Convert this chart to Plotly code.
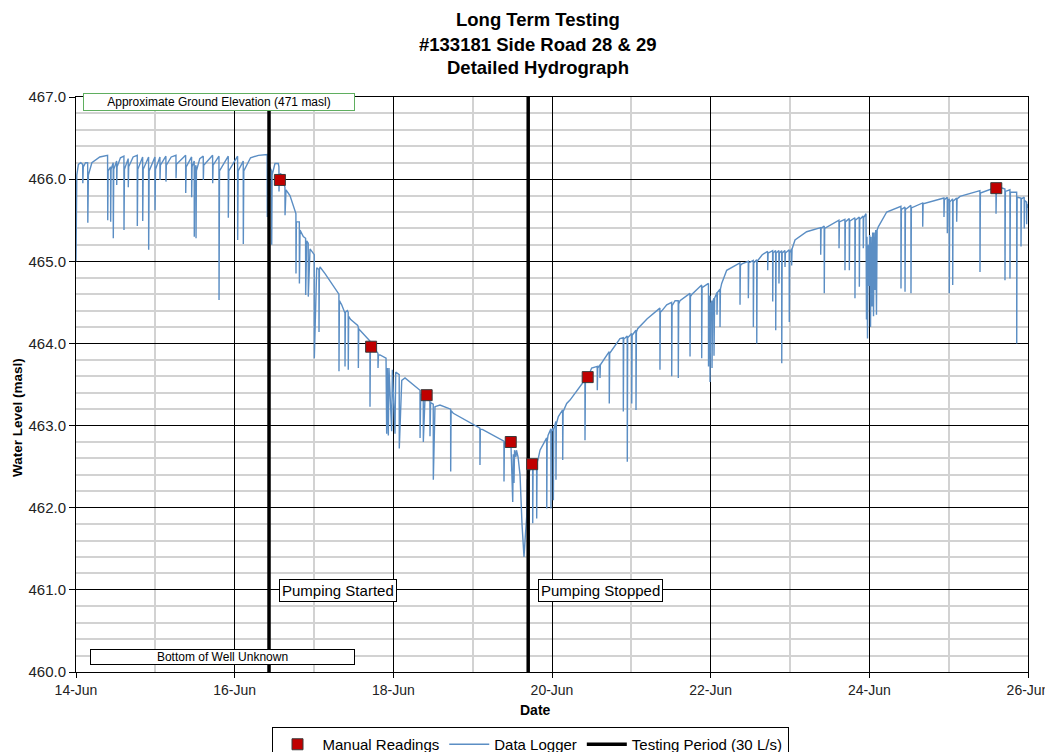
import pandas as pd
import plotly.graph_objects as go

START = pd.Timestamp("2015-06-14")

# ---- Manual readings (day offset from 14-Jun 00:00, level masl)
manual_days = [2.57, 3.72, 4.42, 5.48, 5.75, 6.45, 11.60]
manual_level = [465.99, 463.96, 463.37, 462.80, 462.53, 463.59, 465.89]

# ---- Testing period (pumping start / stop, day offsets)
pump_start_day = 2.433
pump_stop_day = 5.700
testing_levels = [460.0, 467.0]

# ---- Data logger (day offset, level)
logger_prepump = [
    (0.000, 465.00), (0.010, 466.05), (0.030, 466.18), (0.060, 466.20),
    (0.084, 466.18), (0.086, 465.95), (0.092, 466.15), (0.120, 466.20),
    (0.147, 466.20), (0.149, 465.47), (0.156, 466.05), (0.200, 466.20),
    (0.300, 466.27), (0.398, 466.29), (0.400, 465.50), (0.405, 466.10),
    (0.436, 466.15), (0.437, 465.48), (0.442, 466.12), (0.469, 466.20),
    (0.470, 465.28), (0.476, 466.12), (0.512, 466.22), (0.513, 465.93),
    (0.518, 466.15), (0.560, 466.26), (0.604, 466.28), (0.605, 465.38),
    (0.611, 466.12), (0.658, 466.25), (0.659, 465.90), (0.664, 466.15),
    (0.720, 466.27), (0.772, 466.29), (0.773, 465.43), (0.779, 466.12),
    (0.840, 466.27), (0.841, 465.49), (0.847, 466.12), (0.915, 466.27),
    (0.916, 465.14), (0.922, 466.10), (0.995, 466.27), (0.996, 465.62),
    (1.002, 466.12), (1.058, 466.27), (1.059, 465.99), (1.064, 466.17),
    (1.133, 466.28), (1.134, 465.97), (1.139, 466.17), (1.200, 466.27),
    (1.260, 466.29), (1.261, 466.01), (1.266, 466.18), (1.382, 466.29),
    (1.383, 465.83), (1.389, 466.15), (1.457, 466.27), (1.458, 465.78),
    (1.463, 466.15), (1.490, 466.22), (1.491, 465.30), (1.496, 466.10),
    (1.512, 466.17), (1.513, 465.28), (1.518, 466.10), (1.560, 466.25),
    (1.604, 466.28), (1.605, 465.99), (1.610, 466.17), (1.722, 466.29),
    (1.723, 465.95), (1.728, 466.17), (1.802, 466.28), (1.803, 464.53),
    (1.809, 466.10), (1.919, 466.28), (1.920, 465.53), (1.926, 466.10),
    (2.037, 466.28), (2.038, 465.26), (2.044, 466.10), (2.108, 466.22),
    (2.109, 465.21), (2.115, 466.10), (2.200, 466.26), (2.300, 466.29),
    (2.410, 466.30), (2.411, 465.54), (2.416, 466.10),
]

logger_drawdown = [
    (2.440, 466.15), (2.466, 466.10), (2.467, 465.20), (2.472, 466.05),
    (2.508, 466.19), (2.550, 466.19), (2.558, 466.15), (2.559, 465.85),
    (2.564, 466.05), (2.580, 466.07), (2.609, 465.98), (2.634, 465.90),
    (2.635, 465.56), (2.647, 465.87), (2.697, 465.80), (2.760, 465.60),
    (2.772, 465.58), (2.773, 464.85), (2.778, 465.48), (2.815, 465.48),
    (2.816, 464.73), (2.824, 465.38), (2.865, 465.30), (2.894, 465.28),
    (2.895, 464.59), (2.908, 465.25), (2.927, 465.22), (2.928, 464.57),
    (2.950, 465.15), (2.991, 465.10), (3.003, 465.08), (3.004, 463.82),
    (3.034, 464.92), (3.062, 464.90), (3.063, 464.14), (3.068, 464.90),
    (3.076, 464.93), (3.139, 464.85), (3.314, 464.60), (3.315, 463.66),
    (3.320, 464.52), (3.349, 464.47), (3.390, 464.37), (3.391, 463.72),
    (3.396, 464.38), (3.420, 464.40), (3.431, 464.38), (3.432, 463.68),
    (3.437, 464.33), (3.463, 464.29), (3.551, 464.22), (3.558, 464.20),
    (3.559, 463.70), (3.564, 464.18), (3.580, 464.16), (3.684, 464.06),
    (3.705, 464.03), (3.706, 463.23), (3.711, 463.98), (3.718, 463.96),
    (3.790, 463.90), (3.806, 463.88), (3.807, 463.70), (3.812, 463.86),
    (3.832, 463.86), (3.908, 463.82), (3.916, 462.90), (3.925, 463.70),
    (3.937, 462.88), (3.945, 463.70), (3.979, 462.93), (3.988, 463.68),
    (4.021, 462.90), (4.030, 463.65), (4.074, 463.62), (4.075, 462.72),
    (4.106, 463.55), (4.147, 463.58), (4.336, 463.43), (4.337, 462.85),
    (4.345, 463.38), (4.377, 463.38), (4.378, 462.80), (4.399, 463.33),
    (4.461, 463.30), (4.462, 462.87), (4.470, 463.28), (4.503, 463.26),
    (4.504, 462.34), (4.525, 463.23), (4.588, 463.25), (4.722, 463.20),
    (4.723, 462.44), (4.728, 463.18), (4.756, 463.15), (5.091, 462.97),
    (5.092, 462.52), (5.097, 462.96), (5.127, 462.95), (5.394, 462.81),
    (5.395, 462.32), (5.400, 462.80), (5.420, 462.78), (5.483, 462.76),
    (5.505, 462.07), (5.512, 462.65), (5.521, 462.30), (5.528, 462.70),
    (5.546, 462.62), (5.552, 462.70), (5.572, 462.62), (5.597, 462.40),
    (5.622, 461.80), (5.638, 461.45), (5.647, 461.40), (5.660, 461.60),
    (5.681, 461.89), (5.689, 462.34),
]

logger_recovery = [
    (5.732, 462.50), (5.756, 462.53), (5.757, 461.81), (5.762, 462.50), (5.773, 462.55),
    (5.806, 462.58), (5.807, 461.87), (5.812, 462.55), (5.827, 462.60), (5.849, 462.70),
    (5.933, 462.85), (5.934, 461.99), (5.939, 462.80), (5.950, 462.88), (5.975, 462.94),
    (5.986, 462.96), (5.987, 461.99), (5.992, 462.93), (6.016, 462.97), (6.017, 462.09),
    (6.022, 462.95), (6.049, 463.05), (6.050, 462.34), (6.055, 463.02), (6.080, 463.11),
    (6.122, 463.17), (6.134, 463.19), (6.135, 462.58), (6.140, 463.17), (6.185, 463.27),
    (6.227, 463.31), (6.395, 463.53), (6.415, 463.55), (6.416, 462.82), (6.421, 463.53),
    (6.441, 463.57), (6.500, 463.70), (6.570, 463.72), (6.571, 463.43), (6.576, 463.70),
    (6.604, 463.74), (6.605, 463.58), (6.610, 463.74), (6.721, 463.90), (6.722, 463.27),
    (6.727, 463.88), (6.857, 464.06), (6.898, 464.07), (6.899, 463.17), (6.904, 464.05),
    (6.948, 464.09), (6.949, 462.56), (6.954, 464.07), (7.004, 464.12), (7.005, 463.27),
    (7.010, 464.10), (7.058, 464.16), (7.059, 463.19), (7.064, 464.14), (7.080, 464.18),
    (7.200, 464.30), (7.360, 464.43), (7.361, 463.68), (7.366, 464.38), (7.387, 464.40),
    (7.446, 464.47), (7.508, 464.50), (7.509, 463.60), (7.514, 464.46), (7.551, 464.52),
    (7.591, 464.52), (7.592, 463.58), (7.597, 464.48), (7.613, 464.52), (7.739, 464.61),
    (7.740, 463.84), (7.745, 464.57), (7.765, 464.60), (7.886, 464.71), (7.887, 463.82),
    (7.892, 464.68), (7.972, 464.73), (7.973, 463.72), (7.980, 464.55), (7.991, 464.58),
    (7.992, 463.53), (8.000, 464.45), (8.016, 464.52), (8.017, 463.70), (8.025, 464.50),
    (8.041, 464.55), (8.042, 463.85), (8.050, 464.55), (8.079, 464.62), (8.080, 464.35),
    (8.085, 464.62), (8.117, 464.66), (8.118, 464.20), (8.123, 464.66), (8.139, 464.73),
    (8.202, 464.89), (8.369, 464.98), (8.370, 464.47), (8.375, 464.95), (8.395, 464.97),
    (8.474, 465.00), (8.475, 464.55), (8.480, 464.98), (8.537, 465.01), (8.538, 464.20),
    (8.543, 464.98), (8.580, 465.02), (8.581, 464.00), (8.586, 465.00), (8.650, 465.08),
    (8.718, 465.12), (8.719, 464.89), (8.724, 465.10), (8.781, 465.13), (8.782, 464.51),
    (8.787, 465.10), (8.819, 465.13), (8.820, 464.16), (8.825, 465.10), (8.860, 465.13),
    (8.861, 464.73), (8.866, 465.10), (8.895, 465.13), (8.896, 463.76), (8.901, 465.10),
    (8.936, 465.13), (8.937, 464.93), (8.942, 465.10), (8.990, 465.14), (8.991, 464.26),
    (8.996, 465.10), (9.020, 465.15), (9.021, 464.95), (9.026, 465.15), (9.063, 465.26),
    (9.210, 465.36), (9.386, 465.41), (9.387, 465.08), (9.392, 465.40), (9.431, 465.43),
    (9.432, 464.61), (9.437, 465.40), (9.617, 465.50), (9.618, 465.16), (9.623, 465.48),
    (9.692, 465.51), (9.693, 464.89), (9.698, 465.48), (9.747, 465.52), (9.748, 464.89),
    (9.753, 465.49), (9.818, 465.53), (9.819, 464.55), (9.824, 465.50), (9.873, 465.54),
    (9.874, 464.69), (9.879, 465.51), (9.923, 465.55), (9.924, 465.16), (9.929, 465.53),
    (9.958, 465.58), (9.964, 464.29), (9.970, 465.30), (9.977, 464.06), (9.985, 465.20),
    (9.996, 464.70), (10.004, 465.32), (10.015, 464.20), (10.022, 465.30), (10.034, 464.45),
    (10.042, 465.35), (10.053, 464.33), (10.060, 465.35), (10.071, 464.65), (10.080, 465.38),
    (10.090, 464.35), (10.098, 465.38), (10.113, 465.42), (10.219, 465.60), (10.398, 465.67),
    (10.399, 464.67), (10.404, 465.63), (10.449, 465.66), (10.450, 464.63), (10.455, 465.63),
    (10.524, 465.68), (10.525, 464.61), (10.530, 465.65), (10.672, 465.71), (10.673, 465.42),
    (10.678, 465.70), (10.940, 465.77), (10.941, 465.54), (10.946, 465.75), (10.982, 465.78),
    (10.983, 465.34), (10.988, 465.74), (11.007, 465.76), (11.008, 464.61), (11.013, 465.72),
    (11.050, 465.76), (11.051, 464.71), (11.056, 465.73), (11.100, 465.77), (11.101, 465.48),
    (11.106, 465.76), (11.143, 465.79), (11.394, 465.86), (11.395, 464.87), (11.400, 465.83),
    (11.596, 465.90), (11.597, 465.58), (11.602, 465.88), (11.647, 465.90), (11.709, 465.88),
    (11.710, 464.77), (11.715, 465.85), (11.772, 465.87), (11.773, 464.79), (11.778, 465.84),
    (11.857, 465.84), (11.858, 464.00), (11.863, 465.78), (11.911, 465.77), (11.912, 465.18),
    (11.917, 465.76), (11.952, 465.78), (11.953, 465.40), (11.958, 465.74), (11.982, 465.72),
    (11.983, 465.45), (11.988, 465.70), (12.000, 465.65),
]

x_tick_start, x_tick_end = "2015-06-14", "2015-06-26"
y_min, y_max = 460.0, 467.0

FONT = "Liberation Sans, Arial, sans-serif"
DAY_MS = 86400000


def to_dates(days):
    return list(START + pd.to_timedelta(pd.Series(days, dtype=float), unit="D"))


logger_all = logger_prepump + logger_drawdown + logger_recovery
log_days = [p[0] for p in logger_all]
log_level = [p[1] for p in logger_all]

fig = go.Figure()

fig.add_trace(go.Scatter(
    x=to_dates(log_days), y=log_level, mode="lines", name="Data Logger",
    line=dict(color="#5B8EC4", width=1.4), legendrank=2,
))

ts = to_dates([pump_start_day, pump_stop_day])
fig.add_trace(go.Scatter(
    x=[ts[0], ts[0], None, ts[1], ts[1]],
    y=[testing_levels[0], testing_levels[1], None, testing_levels[0], testing_levels[1]],
    mode="lines", name="Testing Period (30 L/s)",
    line=dict(color="black", width=3.5), legendrank=3,
))

fig.add_trace(go.Scatter(
    x=to_dates(manual_days), y=manual_level, mode="markers", name="Manual Readings",
    marker=dict(symbol="square", size=11, color="#C00000",
                line=dict(color="#3a3a3a", width=1)),
    legendrank=1,
))

# page body adds an 8px offset; layout values below are in figure pixels
OFF = 8
W, H = 1053, 752
L, T = 76 - OFF, 97 - OFF
R = W - (1028 - OFF)
B = H - (672 - OFF)
pw, ph = W - L - R, H - T - B


def px(xp):
    return (xp - OFF - L) / pw


def py(yp):
    return (H - B - (yp - OFF)) / ph


annotations = [
    dict(text="<b>Long Term Testing</b>", x=px(538), y=py(20)),
    dict(text="<b>#133181 Side Road 28 &amp; 29</b>", x=px(538), y=py(44)),
    dict(text="<b>Detailed Hydrograph</b>", x=px(538), y=py(68)),
]
for a in annotations:
    a.update(xref="paper", yref="paper", showarrow=False, xanchor="center",
             yanchor="middle", font=dict(size=18.5, family=FONT, color="black"))

annotations += [
    dict(text="<b>Water Level (masl)</b>", x=px(17), y=py(418), textangle=-90,
         xref="paper", yref="paper", showarrow=False, xanchor="center", yanchor="middle",
         font=dict(size=13.5, family=FONT, color="black")),
    dict(text="<b>Date</b>", x=px(535), y=py(710),
         xref="paper", yref="paper", showarrow=False, xanchor="center", yanchor="middle",
         font=dict(size=14, family=FONT, color="black")),
    dict(text="Approximate Ground Elevation (471 masl)", x=px(218.5), y=py(101.5),
         xref="paper", yref="paper", showarrow=False, xanchor="center", yanchor="middle",
         width=268, height=14, bgcolor="white", bordercolor="#5FAE5F", borderwidth=1,
         borderpad=1, font=dict(size=12, family=FONT, color="black")),
    dict(text="Bottom of Well Unknown", x=px(222), y=py(657),
         xref="paper", yref="paper", showarrow=False, xanchor="center", yanchor="middle",
         width=261, height=12, bgcolor="white", bordercolor="black", borderwidth=1,
         borderpad=1, font=dict(size=12, family=FONT, color="black")),
    dict(text="Pumping Started", x=px(338), y=py(590.5),
         xref="paper", yref="paper", showarrow=False, xanchor="center", yanchor="middle",
         bgcolor="white", bordercolor="black", borderwidth=1, borderpad=2,
         font=dict(size=15, family=FONT, color="black")),
    dict(text="Pumping Stopped", x=px(600.5), y=py(590.5),
         xref="paper", yref="paper", showarrow=False, xanchor="center", yanchor="middle",
         bgcolor="white", bordercolor="black", borderwidth=1, borderpad=2,
         font=dict(size=15, family=FONT, color="black")),
]

fig.update_layout(
    width=W, height=H,
    margin=dict(l=L, r=R, t=T, b=B, pad=0, autoexpand=False),
    paper_bgcolor="white", plot_bgcolor="white",
    font=dict(family=FONT, size=14, color="black"),
    showlegend=True,
    legend=dict(orientation="h", x=px(530), xanchor="center", y=py(727), yanchor="top",
                bordercolor="black", borderwidth=1, bgcolor="white",
                font=dict(size=15, family=FONT, color="black"),
                itemwidth=40, traceorder="normal"),
    annotations=annotations,
    xaxis=dict(
        type="date", range=[x_tick_start, x_tick_end],
        tickmode="linear", tick0=x_tick_start, dtick=2 * DAY_MS, tickformat="%d-%b",
        showgrid=True, gridcolor="black", gridwidth=1,
        minor=dict(tickmode="linear", tick0=x_tick_start, dtick=DAY_MS,
                   showgrid=True, gridcolor="#d2d2d2", gridwidth=2, ticks=""),
        showline=True, linecolor="black", linewidth=1, mirror=True,
        ticks="outside", ticklen=5, tickcolor="black",
        tickfont=dict(size=14, family=FONT, color="#222"),
        zeroline=False, automargin=False,
    ),
    yaxis=dict(
        range=[y_min, y_max], tickmode="linear", dtick=1, tick0=460, tickformat=".1f",
        showgrid=True, gridcolor="black", gridwidth=1,
        minor=dict(tickmode="linear", tick0=460, dtick=0.2, showgrid=True,
                   gridcolor="#d2d2d2", gridwidth=2, ticks=""),
        showline=True, linecolor="black", linewidth=1, mirror=True,
        ticks="outside", ticklen=6, tickcolor="black",
        tickfont=dict(size=15, family=FONT, color="#222"),
        zeroline=False, automargin=False,
    ),
)

fig.write_html("out.html")
